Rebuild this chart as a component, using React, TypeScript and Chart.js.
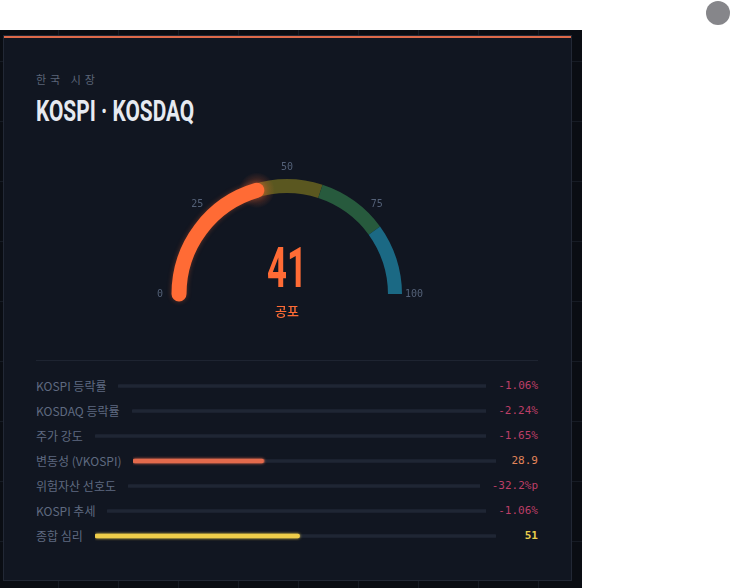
import React, { useEffect, useRef } from 'react';
import { Chart, registerables } from 'chart.js';

Chart.register(...registerables);

// ---- data ----
const gaugeValue = 41;
const gaugeMood = '공포';
const gaugeBands = [20, 20, 20, 20, 20];
const gaugeBandColors = ['#3d2229', '#43291f', '#5a5720', '#275a3d', '#1b6984'];
const gaugeTicks = [0, 25, 50, 75, 100];

const rowLabels = ['KOSPI 등락률', 'KOSDAQ 등락률', '주가 강도', '변동성 (VKOSPI)', '위험자산 선호도', 'KOSPI 추세', '종합 심리'];
const rowDisplay = ['-1.06%', '-2.24%', '-1.65%', '28.9', '-32.2%p', '-1.06%', '51'];
const rowFill = [0, 0, 0, 36, 0, 0, 51];
const rowFillColors = ['#e8664a', '#e8664a', '#e8664a', '#e36a4c', '#e8664a', '#e8664a', '#efcd4a'];
const rowValueColors = ['#bc3e66', '#bc3e66', '#bc3e66', '#e2855a', '#bc3e66', '#bc3e66', '#e9cd4c'];
const rowBold = [false, false, false, false, false, false, true];

const TRACK = '#1f2634';
const ORANGE = '#ff6b35';

function GaugeChart() {
  const ref = useRef<HTMLCanvasElement>(null);
  useEffect(() => {
    const overlay = {
      id: 'gaugeOverlay',
      afterDatasetsDraw(chart: any) {
        const el = chart.getDatasetMeta(0).data[0];
        const { x, y, innerRadius, outerRadius } = el.getProps(['x', 'y', 'innerRadius', 'outerRadius'], true);
        const ctx = chart.ctx as CanvasRenderingContext2D;
        const mid = (innerRadius + outerRadius) / 2;
        const w = outerRadius - innerRadius;
        const endA = Math.PI + (Math.PI * gaugeValue) / 100;
        // soft glow at the needle end
        ctx.save();
        const gx = x + Math.cos(endA) * mid;
        const gy = y + Math.sin(endA) * mid;
        const g = ctx.createRadialGradient(gx, gy, 0, gx, gy, 18);
        g.addColorStop(0, 'rgba(255,107,53,0.45)');
        g.addColorStop(1, 'rgba(255,107,53,0)');
        ctx.fillStyle = g;
        ctx.beginPath();
        ctx.arc(gx, gy, 18, 0, Math.PI * 2);
        ctx.fill();
        ctx.restore();

        ctx.save();
        ctx.shadowColor = 'rgba(255,107,53,0.35)';
        ctx.shadowBlur = 5;
        ctx.strokeStyle = ORANGE;
        ctx.lineWidth = w + 1;
        ctx.lineCap = 'round';
        ctx.beginPath();
        ctx.arc(x, y, mid, Math.PI, endA);
        ctx.stroke();
        ctx.restore();

        ctx.save();
        ctx.font = '10px "DejaVu Sans Mono"';
        ctx.fillStyle = '#536077';
        ctx.textAlign = 'center';
        ctx.textBaseline = 'middle';
        gaugeTicks.forEach((t) => {
          const a = Math.PI + (Math.PI * t) / 100;
          const r = outerRadius + 12;
          ctx.fillText(String(t), x + Math.cos(a) * r, y + Math.sin(a) * r);
        });
        ctx.restore();

        ctx.save();
        ctx.fillStyle = ORANGE;
        ctx.textAlign = 'center';
        ctx.textBaseline = 'alphabetic';
        ctx.translate(x, y - 7);
        ctx.scale(0.62, 1);
        ctx.font = 'bold 56px Roboto';
        ctx.fillText(String(gaugeValue), 0, 0);
        ctx.restore();

        ctx.save();
        ctx.fillStyle = ORANGE;
        ctx.textAlign = 'center';
        ctx.textBaseline = 'middle';
        ctx.font = '500 13px "Noto Sans CJK KR"';
        ctx.fillText(gaugeMood, x, y + 17);
        ctx.restore();
      },
    };
    const chart = new Chart(ref.current!, {
      type: 'doughnut',
      data: {
        labels: gaugeBands.map((_, i) => String(i)),
        datasets: [{ data: gaugeBands, backgroundColor: gaugeBandColors, borderWidth: 0 }],
      },
      options: {
        animation: false,
        responsive: false,
        events: [],
        rotation: -90,
        circumference: 180,
        radius: 115,
        cutout: '87.8%',
        layout: { padding: { left: 35, right: 35, top: 20, bottom: 45 } },
        plugins: { legend: { display: false }, tooltip: { enabled: false } },
      } as any,
      plugins: [overlay],
    });
    return () => chart.destroy();
  }, []);
  return <canvas ref={ref} width={300} height={180} style={{ position: 'absolute', left: 137, top: 159, width: 300, height: 180 }} />;
}

function BarRow({ i }: { i: number }) {
  const ref = useRef<HTMLCanvasElement>(null);
  useEffect(() => {
    const glow = {
      id: 'glow',
      beforeDatasetDraw(chart: any, args: any) {
        if (args.index === 0) {
          chart.ctx.save();
          chart.ctx.shadowColor = rowFillColors[i];
          chart.ctx.shadowBlur = 3;
        }
      },
      afterDatasetDraw(chart: any, args: any) {
        if (args.index === 0) chart.ctx.restore();
      },
    };
    const chart = new Chart(ref.current!, {
      type: 'bar',
      data: {
        labels: [rowLabels[i]],
        datasets: [
          { data: [rowFill[i] > 0 ? rowFill[i] : null], backgroundColor: rowFillColors[i], barThickness: 4, borderRadius: 2, borderSkipped: false, grouped: false } as any,
          { data: [100], backgroundColor: TRACK, barThickness: 3, borderRadius: 1.5, borderSkipped: false, grouped: false } as any,
        ],
      },
      options: {
        indexAxis: 'y',
        animation: false,
        responsive: true,
        maintainAspectRatio: false,
        events: [],
        layout: { padding: 0 },
        scales: { x: { min: 0, max: 100, display: false }, y: { display: false } },
        plugins: { legend: { display: false }, tooltip: { enabled: false } },
      },
      plugins: [glow],
    });
    return () => chart.destroy();
  }, []);
  return (
    <div style={{ display: 'flex', alignItems: 'center', height: 25 }}>
      <div style={{ whiteSpace: 'nowrap', fontFamily: '"Noto Sans CJK KR", "Noto Sans", sans-serif', fontSize: 12, color: '#5f6a80' }}>{rowLabels[i]}</div>
      <div style={{ flex: 1, position: 'relative', height: 10, margin: '0 12px' }}>
        <canvas ref={ref} />
      </div>
      <div
        style={{
          minWidth: 30,
          textAlign: 'right',
          fontFamily: '"DejaVu Sans Mono", monospace',
          fontSize: 11,
          fontWeight: rowBold[i] ? 'bold' : 'normal',
          color: rowValueColors[i],
        }}
      >
        {rowDisplay[i]}
      </div>
    </div>
  );
}

export default function App() {
  return (
    <div style={{ position: 'absolute', left: 0, top: 0, width: 731, height: 588, overflow: 'hidden', background: '#ffffff' }}>
      <div style={{ position: 'absolute', left: 706, top: 1, width: 24, height: 24, borderRadius: '50%', background: '#86868a' }} />
      <div
        style={{
          position: 'absolute',
          left: 0,
          top: 30,
          width: 582,
          height: 558,
          backgroundColor: '#0a0d13',
          backgroundImage:
            'linear-gradient(to right, #161b24 1px, transparent 1px), linear-gradient(to bottom, #161b24 1px, transparent 1px)',
          backgroundSize: '60px 60px',
          backgroundPosition: '-2px 31px',
        }}
      />
      <div
        style={{
          position: 'absolute',
          left: 3,
          top: 35,
          width: 567,
          height: 544,
          background: '#111621',
          border: '1px solid #222835',
        }}
      >
        <div style={{ position: 'absolute', left: 0, right: 0, top: 0, height: 2, background: '#de6a4a' }} />
      </div>
      <div
        style={{
          position: 'absolute',
          left: 36,
          top: 71,
          fontFamily: '"Noto Sans CJK KR", sans-serif',
          fontSize: 11,
          lineHeight: '16px',
          letterSpacing: 4,
          color: '#5b6578',
          whiteSpace: 'nowrap',
        }}
      >
        한국 시장
      </div>
      <div
        style={{
          position: 'absolute',
          left: 36,
          top: 94,
          fontFamily: 'Roboto, sans-serif',
          fontWeight: 'bold',
          fontSize: 29,
          lineHeight: '34px',
          color: '#e6eaf1',
          whiteSpace: 'nowrap',
          transform: 'scaleX(0.72)',
          transformOrigin: 'left center',
        }}
      >
        KOSPI · KOSDAQ
      </div>
      <GaugeChart />
      <div style={{ position: 'absolute', left: 36, top: 360, width: 502, height: 1, background: '#1e2431' }} />
      <div style={{ position: 'absolute', left: 36, top: 373, width: 502 }}>
        {rowLabels.map((_, i) => (
          <BarRow key={i} i={i} />
        ))}
      </div>
    </div>
  );
}
